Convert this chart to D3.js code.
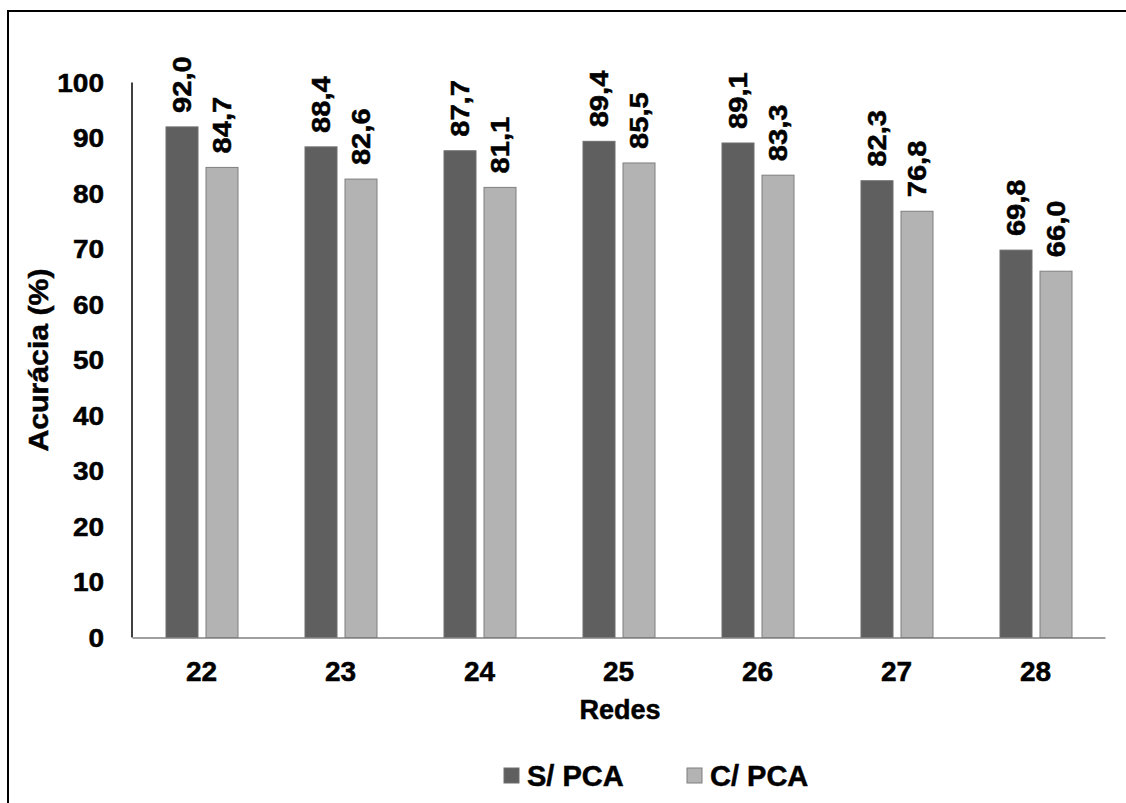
<!DOCTYPE html>
<html>
<head>
<meta charset="utf-8">
<script src="https://cdn.jsdelivr.net/npm/d3@7"></script>
<style>
    body { margin: 0; background: #fff; }
    text { font-family: "Liberation Sans", Arial, sans-serif; font-weight: bold; fill: #000; stroke: #000; stroke-width: 0.5px; }
</style>
</head>
<body>
<div id="chart"></div>
<script>
// data
var redes = ["22", "23", "24", "25", "26", "27", "28"];
var semPCA = [92.0, 88.4, 87.7, 89.4, 89.1, 82.3, 69.8];
var comPCA = [84.7, 82.6, 81.1, 85.5, 83.3, 76.8, 66.0];
var seriesNames = ["S/ PCA", "C/ PCA"];
var seriesColors = ["#5f5f5f", "#b3b3b3"];
var strokeColors = ["#6e6e6e", "#7f7f7f"];
var yTicks = [0, 10, 20, 30, 40, 50, 60, 70, 80, 90, 100];

function lineChart() {
    var w = 1126;
    var h = 803;
    var left = 132, right = 1105, top = 82.5, bottom = 637.5;

    var svg = d3.select("#chart").append("svg").attr("width", w).attr("height", h);

    // outer frame
    svg.append("rect")
        .attr("x", 8).attr("y", 11)
        .attr("width", 1130).attr("height", 800)
        .attr("fill", "none").attr("stroke", "#000").attr("stroke-width", 2);

    var xScale = d3.scaleBand().domain(redes).range([left, right]);
    var xInner = d3.scaleBand().domain([0, 1]).range([0, 72]).paddingInner(0.2);
    var yScale = d3.scaleLinear().domain([0, 100]).range([bottom, top]);

    var rows = redes.map(function(r, i) {
        return { rede: r, vals: [semPCA[i], comPCA[i]] };
    });

    var groups = svg.selectAll(".grp").data(rows).enter().append("g")
        .attr("transform", function(d) {
            return "translate(" + (xScale(d.rede) + xScale.bandwidth() / 2 - 35.5) + ",0)";
        });

    var cells = groups.selectAll(".bar").data(function(d) {
        return d.vals.map(function(v, k) { return { k: k, v: v }; });
    }).enter();

    cells.append("rect")
        .attr("x", function(d) { return xInner(d.k); })
        .attr("y", function(d) { return yScale(d.v); })
        .attr("width", xInner.bandwidth())
        .attr("height", function(d) { return bottom - yScale(d.v); })
        .attr("fill", function(d) { return seriesColors[d.k]; })
        .attr("stroke", function(d) { return strokeColors[d.k]; })
        .attr("stroke-width", 1);

    cells.append("text")
        .attr("transform", function(d) {
            return "translate(" + (xInner(d.k) + xInner.bandwidth() / 2) + "," + (yScale(d.v) - 14) + ") rotate(-90) scale(1.12,1)";
        })
        .attr("dy", "0.36em")
        .style("font-size", "26px")
        .text(function(d) { return d3.format(".1f")(d.v).replace(".", ","); });

    // axes
    var yAxis = d3.axisLeft(yScale).tickValues(yTicks).tickSize(0).tickPadding(28);
    var gy = svg.append("g").attr("transform", "translate(" + left + ",0)").call(yAxis);
    gy.select(".domain").attr("stroke", "#000").attr("stroke-width", 1.5).attr("d", "M0," + top + "V" + bottom);
    gy.selectAll("text").style("font-size", "25px").attr("dy", "0.35em")
        .attr("transform", function() { return "scale(1.12,1)"; })
        .attr("x", -28 / 1.12);

    var xAxis = d3.axisBottom(xScale).tickSize(0).tickPadding(24);
    var gx = svg.append("g").attr("transform", "translate(0," + bottom + ")").call(xAxis);
    gx.select(".domain").attr("stroke", "#808080").attr("stroke-width", 1.5);
    gx.selectAll("text").style("font-size", "28px").attr("dy", "0.71em");

    svg.append("text")
        .attr("x", 620).attr("y", 719)
        .attr("text-anchor", "middle")
        .style("font-size", "27px")
        .text("Redes");

    svg.append("text")
        .attr("transform", "translate(48,360) rotate(-90) scale(1.12,1)")
        .attr("text-anchor", "middle")
        .style("font-size", "27px")
        .text("Acurácia (%)");

    // legend
    var legX = [504, 687];
    var leg = svg.selectAll(".leg").data(seriesNames).enter().append("g")
        .attr("transform", function(d, i) { return "translate(" + legX[i] + ",768)"; });
    leg.append("rect")
        .attr("width", 15).attr("height", 15)
        .attr("fill", function(d, i) { return seriesColors[i]; })
        .attr("stroke", function(d, i) { return strokeColors[i]; });
    leg.append("text")
        .attr("x", 23).attr("y", 18)
        .style("font-size", "29px")
        .text(function(d) { return d; });
}

window.onload = lineChart;
</script>
</body>
</html>
